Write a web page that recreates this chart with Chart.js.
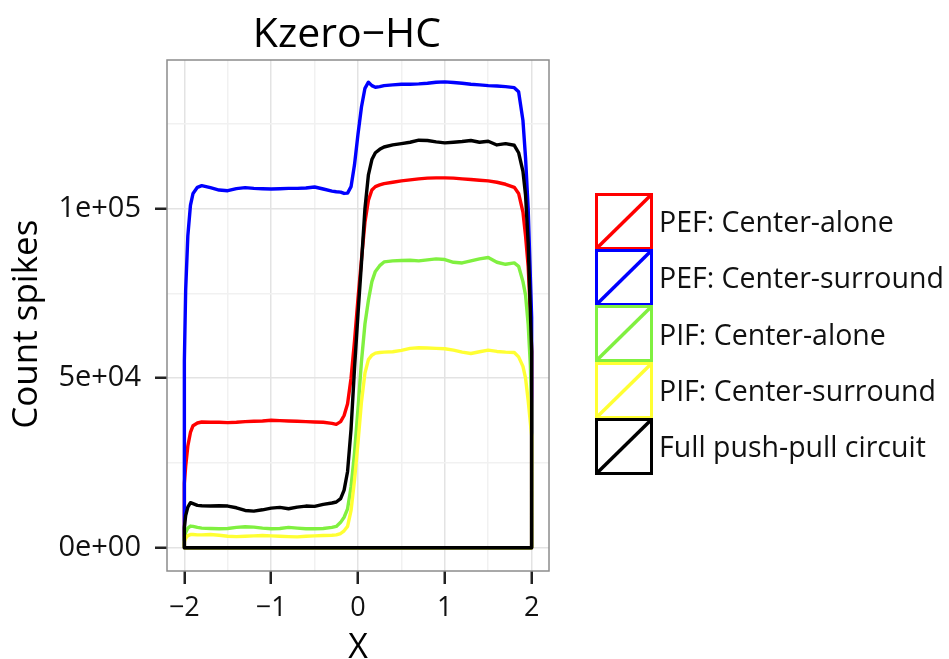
<!DOCTYPE html>
<html>
<head>
<meta charset="utf-8">
<script src="https://cdn.jsdelivr.net/npm/chart.js@4.4.1/dist/chart.umd.min.js"></script>
<style>
  body { margin: 0; background: #fff; }
  #wrap { position: relative; width: 949px; height: 659px; }
  #legend { position: absolute; left: 595px; top: 193px; font-family: "Open Sans", sans-serif; font-size: 28.5px; color: #111; }
  .item { display: flex; align-items: center; height: 56.3px; }
  .item svg { display: block; margin-right: 6px; }
</style>
</head>
<body>
<div id="wrap">
  <canvas id="chart" width="949" height="659"></canvas>
  <div id="legend"></div>
</div>
<script>
// x positions shared by every curve
const xs = [-2, -1.985, -1.96, -1.93, -1.9, -1.85, -1.8, -1.7, -1.6, -1.5,
  -1.4, -1.3, -1.2, -1.1, -1.0, -0.9, -0.8, -0.7, -0.6, -0.5,
  -0.4, -0.3, -0.25, -0.2, -0.16, -0.12, -0.08, -0.04, 0, 0.04,
  0.08, 0.12, 0.16, 0.2, 0.25, 0.3, 0.4, 0.5, 0.6, 0.7,
  0.8, 0.9, 1.0, 1.1, 1.2, 1.3, 1.4, 1.5, 1.6, 1.7,
  1.8, 1.85, 1.9, 1.93, 1.96, 1.985, 2];

const pefCenterAlone = [19000, 24000, 30000, 34000, 36000, 36800, 37100, 37000, 37000, 36900,
  37000, 37200, 37300, 37400, 37600, 37500, 37400, 37300, 37200, 37100,
  37000, 36700, 36400, 37200, 39000, 42500, 50000, 61000, 73500, 85000,
  96000, 102500, 105500, 106500, 107000, 107400, 107800, 108200, 108500, 108800,
  109000, 109100, 109100, 109000, 108800, 108600, 108400, 108200, 107800, 107200,
  106300, 104500, 99000, 92000, 83000, 70000, 58000];

const pefCenterSurround = [55000, 76000, 92000, 101000, 104500, 106300, 106800, 106200, 105500, 105300,
  105900, 106200, 106000, 105900, 105800, 105900, 106000, 106000, 106100, 106400,
  105800, 105200, 105000, 104900, 104500, 104600, 106500, 113000, 122000, 130000,
  135500, 137300, 136300, 135800, 136000, 136300, 136500, 136700, 136700, 136800,
  137000, 137300, 137400, 137200, 137000, 136700, 136500, 136300, 136200, 136000,
  135700, 134500, 126000, 115000, 100000, 80000, 68000];

const pifCenterAlone = [3000, 4500, 5800, 6400, 6300, 6000, 5800, 5700, 5600, 5700,
  6000, 6200, 6100, 5800, 5600, 5700, 6000, 5800, 5600, 5600,
  5700, 6000, 6300, 7500, 9000, 11500, 18000, 28000, 41000, 55000,
  66000, 73000, 78500, 81500, 83200, 84300, 84600, 84700, 84800, 84600,
  84900, 85200, 85000, 84200, 84000, 84600, 85200, 85600, 84200, 83600,
  84000, 83000, 78500, 74500, 66000, 54000, 42000];

const pifCenterSurround = [1800, 2800, 3600, 3900, 3900, 3800, 3800, 3900, 3700, 3400,
  3300, 3400, 3500, 3600, 3500, 3400, 3300, 3200, 3400, 3500,
  3600, 3700, 3800, 4200, 5000, 6300, 11000, 20000, 31000, 43000,
  51500, 55500, 56800, 57400, 57600, 57700, 57800, 58200, 58800, 59000,
  58900, 58800, 58700, 58300, 57700, 57300, 57800, 58300, 57900, 57700,
  57600, 56300, 53500, 50000, 43500, 37000, 33000];

const fullPushPull = [6000, 9500, 12000, 13300, 13000, 12500, 12400, 12300, 12400, 12300,
  11800, 11000, 10800, 11200, 11700, 11900, 11500, 12000, 12300, 12200,
  12800, 13200, 13500, 14500, 17000, 22500, 35000, 53000, 69000, 84000,
  100000, 110000, 114500, 116500, 117500, 118200, 118800, 119200, 119600, 120200,
  120100, 119700, 119400, 119600, 119800, 120100, 119600, 119900, 118800, 119200,
  118700, 116500, 111000, 104000, 90000, 70000, 58000];

const seriesNames = ['PEF: Center-alone', 'PEF: Center-surround', 'PIF: Center-alone', 'PIF: Center-surround', 'Full push-pull circuit'];
const seriesValues = [pefCenterAlone, pefCenterSurround, pifCenterAlone, pifCenterSurround, fullPushPull];
const seriesColors = ['#ff0000', '#0000ff', '#80f040', '#ffff33', '#000000'];

const xTickValues = [-2, -1.5, -1, -0.5, 0, 0.5, 1, 1.5, 2];
const xTickLabels = ['\u22122', '', '\u22121', '', '0', '', '1', '', '2'];
const yTickValues = [0, 25000, 50000, 75000, 100000, 125000];
const yTickLabels = ['0e+00', '', '5e+04', '', '1e+05', ''];

const FONT = '"Open Sans", "DejaVu Sans", sans-serif';

// closed outline: up from the baseline, along the curve, down and back along zero
function outline(vals) {
  const pts = [{ x: xs[0], y: 0 }];
  xs.forEach((x, i) => pts.push({ x: x, y: vals[i] }));
  pts.push({ x: xs[xs.length - 1], y: 0 });
  pts.push({ x: xs[0], y: 0 });
  return pts;
}

const datasets = seriesValues.map((vals, i) => ({
  label: seriesNames[i],
  data: outline(vals),
  borderColor: seriesColors[i],
  borderWidth: 3.4,
  borderJoinStyle: 'round',
  borderCapStyle: 'round',
  pointRadius: 0,
  fill: false,
  tension: 0,
  order: seriesValues.length - i  // black drawn last, on top
}));

const panelBorder = {
  id: 'panelBorder',
  beforeDatasetsDraw(chart) {
    const { ctx, chartArea: a } = chart;
    ctx.save();
    ctx.strokeStyle = '#8c8c8c';
    ctx.lineWidth = 1.5;
    ctx.strokeRect(a.left, a.top, a.right - a.left, a.bottom - a.top);
    ctx.restore();
  }
};

// plot title, placed a little left of the panel centre like the original
const plotTitle = {
  id: 'plotTitle',
  afterDraw(chart) {
    const { ctx } = chart;
    ctx.save();
    ctx.fillStyle = '#000';
    ctx.font = '41px ' + FONT;
    ctx.textAlign = 'center';
    ctx.textBaseline = 'alphabetic';
    ctx.fillText('Kzero\u2212HC', 347, 47);
    ctx.restore();
  }
};

function gridColor(labels) {
  return ctx => labels[ctx.index] ? '#e3e3e3' : '#f1f1f1';
}
function tickColor(labels) {
  return ctx => labels[ctx.index] ? '#222' : 'rgba(0,0,0,0)';
}

new Chart(document.getElementById('chart'), {
  type: 'line',
  data: { datasets: datasets },
  options: {
    responsive: false,
    animation: false,
    layout: { padding: { right: 400, top: 60 } },
    plugins: {
      legend: { display: false },
      tooltip: { enabled: false }
    },
    scales: {
      x: {
        type: 'linear',
        min: -2.2,
        max: 2.2,
        afterBuildTicks: s => { s.ticks = xTickValues.map(v => ({ value: v })); },
        afterFit: s => { s.height = 88; },
        ticks: {
          autoSkip: false,
          maxRotation: 0,
          padding: 8,
          color: '#111',
          font: { family: FONT, size: 27 },
          callback: (v, i) => xTickLabels[i]
        },
        grid: {
          color: gridColor(xTickLabels),
          lineWidth: 1.5,
          tickLength: 13,
          tickColor: tickColor(xTickLabels),
          tickWidth: 2.5
        },
        border: { display: false },
        title: {
          display: true,
          text: 'X',
          color: '#000',
          font: { family: FONT, size: 34, lineHeight: 0.64 },
          padding: { top: 0, bottom: 0 }
        }
      },
      y: {
        min: -6850,
        max: 143850,
        afterBuildTicks: s => { s.ticks = yTickValues.map(v => ({ value: v })); },
        afterFit: s => { s.width = 167; },
        ticks: {
          autoSkip: false,
          padding: 14,
          color: '#111',
          font: { family: FONT, size: 29 },
          callback: (v, i) => yTickLabels[i]
        },
        grid: {
          color: gridColor(yTickLabels),
          lineWidth: 1.5,
          tickLength: 12,
          tickColor: tickColor(yTickLabels),
          tickWidth: 2.5
        },
        border: { display: false },
        title: {
          display: true,
          text: 'Count spikes\u2002',
          color: '#000',
          font: { family: FONT, size: 35, lineHeight: 1.2 },
          padding: { top: 6, bottom: 0 }
        }
      }
    }
  },
  plugins: [panelBorder, plotTitle]
});

// legend keys: outlined square with a diagonal, as ggplot draws them
const legend = document.getElementById('legend');
seriesNames.forEach((name, i) => {
  const row = document.createElement('div');
  row.className = 'item';
  const c = seriesColors[i];
  row.innerHTML = '<svg width="58" height="57" viewBox="0 0 58 57">' +
    '<rect x="1.5" y="1.5" width="55" height="54" fill="#fff" stroke="' + c + '" stroke-width="3"/>' +
    '<line x1="2" y1="55" x2="56" y2="2" stroke="' + c + '" stroke-width="3.5"/></svg>' +
    '<span>' + name + '</span>';
  legend.appendChild(row);
});
</script>
</body>
</html>
